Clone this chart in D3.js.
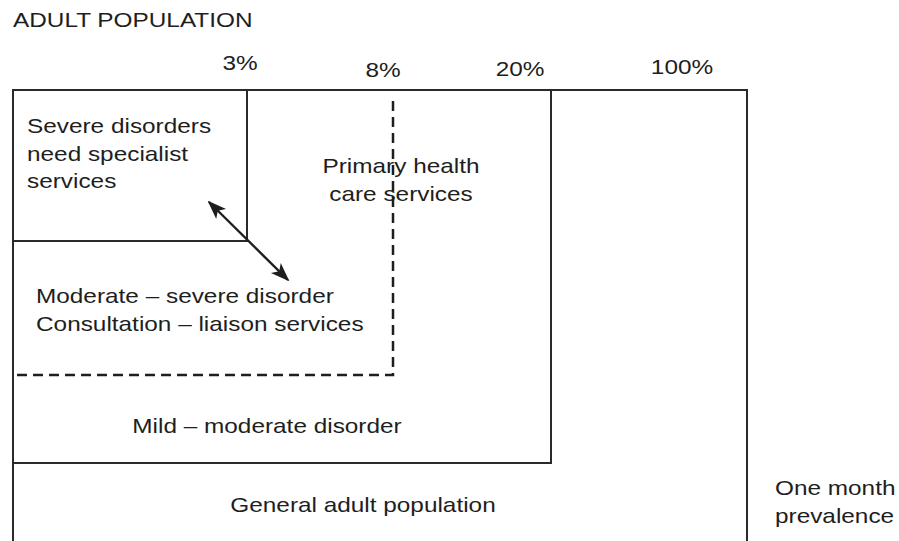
<!DOCTYPE html>
<html>
<head>
<meta charset="utf-8">
<script src="https://cdn.jsdelivr.net/npm/d3@7"></script>
<style>
  body { margin: 0; background: #fff; }
  svg text { font-family: "Liberation Sans", Arial, sans-serif; font-size: 21px; fill: #1e1e1e; }
</style>
</head>
<body>
<div id="chart"></div>
<script>
// prevalence levels (one month prevalence, % of adult population)
var levels = [3, 8, 20, 100];
var levelLabels = ["3%", "8%", "20%", "100%"];
// which levels are drawn dashed (service boundary rather than disorder band)
var levelDashed = [false, true, false, false];

var title = "ADULT POPULATION";
var severeText = ["Severe disorders", "need specialist", "services"];
var primaryText = ["Primary health", "care services"];
var moderateText = ["Moderate \u2013 severe disorder", "Consultation \u2013 liaison services"];
var mildText = ["Mild \u2013 moderate disorder"];
var generalText = ["General adult population"];
var noteText = ["One month", "prevalence"];

var width = 899, height = 541;
var stretch = 1.16, lineStep = 27.5;
var ink = "#1e1e1e";

var svg = d3.select("#chart").append("svg")
    .attr("width", width)
    .attr("height", height);

// schematic (not proportional) scales: each level gets its own box edge
var x = d3.scaleLinear().domain([0].concat(levels)).range([13, 247, 393, 551, 747]);
var y = d3.scaleLinear().domain([0].concat(levels)).range([90, 241, 375, 463, 575]);

svg.append("defs").selectAll("marker")
    .data(["head"])
    .enter().append("marker")
    .attr("id", "head")
    .attr("viewBox", "0 0 10 10")
    .attr("refX", 9).attr("refY", 5)
    .attr("markerWidth", 19).attr("markerHeight", 19)
    .attr("markerUnits", "userSpaceOnUse")
    .attr("orient", "auto-start-reverse")
    .append("path")
    .attr("d", "M0,1.3 L10,5 L0,8.7 L2.5,5 z")
    .attr("fill", ink);

// helper: stretched text, line by line
function label(lines, px, py, anchor) {
    var g = svg.append("g");
    lines.forEach(function (t, i) {
        g.append("text")
            .attr("transform", "translate(" + px + "," + (py + i * lineStep) + ") scale(" + stretch + ",1)")
            .attr("text-anchor", anchor || "start")
            .text(t);
    });
    return g;
}

// dashed levels: only right and bottom edges (left/top shared with solid boxes)
var dashedIdx = d3.range(levels.length).filter(function (i) { return levelDashed[i]; });
svg.selectAll("path.dashed")
    .data(dashedIdx)
    .enter().append("path")
    .attr("class", "dashed")
    .attr("d", function (i) {
        var v = levels[i];
        return "M" + (x(0) + 4) + "," + y(v) + "H" + x(v) + "V" + (y(0) + 5);
    })
    .attr("fill", "none")
    .attr("stroke", ink)
    .attr("stroke-width", 2.5)
    .attr("stroke-dasharray", "10,6");

// solid boxes, biggest first
var solidIdx = d3.range(levels.length).reverse().filter(function (i) { return !levelDashed[i]; });
svg.selectAll("rect.level")
    .data(solidIdx)
    .enter().append("rect")
    .attr("class", "level")
    .attr("x", x(0))
    .attr("y", y(0))
    .attr("width", function (i) { return x(levels[i]) - x(0); })
    .attr("height", function (i) { return y(levels[i]) - y(0); })
    .attr("fill", "none")
    .attr("stroke", "#2a2a2a")
    .attr("stroke-width", 2);

// tick labels along the top
var tickDx = [-7, -10, -31, -65];
var tickY = [70, 76.5, 76, 74];
levels.forEach(function (v, i) {
    label([levelLabels[i]], x(v) + tickDx[i], tickY[i], "middle");
});

label([title], x(0), 27);

// double arrow through the corner of the 3% box
svg.append("line")
    .attr("x1", x(3) - 38).attr("y1", y(3) - 39)
    .attr("x2", x(3) + 41).attr("y2", y(3) + 39)
    .attr("stroke", ink)
    .attr("stroke-width", 2.4)
    .attr("marker-start", "url(#head)")
    .attr("marker-end", "url(#head)");

label(severeText, x(0) + 14, 133);
label(primaryText, x(8) + 8, 173, "middle");
label(moderateText, x(0) + 23, 303);
label(mildText, x(0) + 254, 433, "middle");
label(generalText, x(0) + 350, 512, "middle");
label(noteText, x(100) + 28, 495);
</script>
</body>
</html>
